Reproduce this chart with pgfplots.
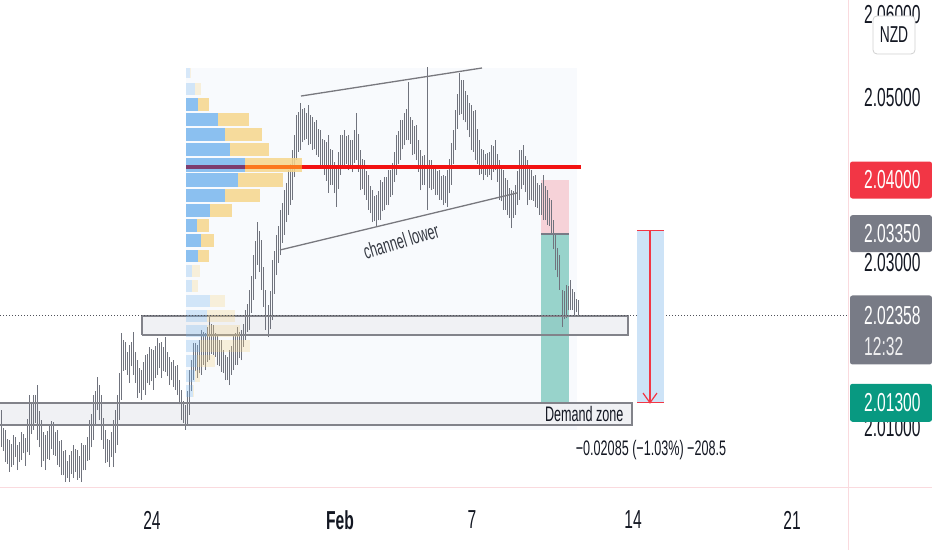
\documentclass[border=0pt]{standalone}
\usepackage{fontspec}
\setmainfont{Liberation Sans}[FakeStretch=0.6]
\usepackage{pgfplots}
\pgfplotsset{compat=1.18}
\usepackage{pgfplotstable}

\definecolor{tvtext}{RGB}{19,23,34}
\definecolor{barcol}{RGB}{112,115,125}
\definecolor{vpblue}{RGB}{120,182,238}
\definecolor{vpyel}{RGB}{246,214,140}
\definecolor{tvred}{RGB}{242,54,69}
\definecolor{pocred}{RGB}{242,18,18}
\definecolor{tvgreen}{RGB}{8,153,129}
\definecolor{tvgray}{RGB}{120,123,134}
\definecolor{sepcol}{RGB}{250,218,222}
\definecolor{rectfill}{RGB}{240,241,244}
\definecolor{rectdraw}{RGB}{130,131,138}
\definecolor{measfill}{RGB}{205,227,247}
\definecolor{tint}{RGB}{248,250,253}
\definecolor{pocA}{RGB}{125,60,110}
\definecolor{pocB}{RGB}{252,120,30}
\definecolor{chancol}{RGB}{120,120,126}
\definecolor{dotcol}{RGB}{80,82,90}

\newcommand{\axfont}{\fontsize{26}{28}\selectfont}
\newcommand{\smfont}{\fontsize{21}{24}\selectfont}

\newcommand{\vprow}[5]{%
  \addplot[draw=none, fill=vpblue, fill opacity=#5] coordinates {(186,#1) (#3,#1) (#3,#2) (186,#2)};
  \addplot[draw=none, fill=vpyel, fill opacity=#5] coordinates {(#3,#1) (#4,#1) (#4,#2) (#3,#2)};
}

\pgfplotstableread{
x lo hi
1 2.00764 2.01212
5 2.00582 2.00970
9 2.00461 2.00849
13 2.00546 2.00909
17 2.00485 2.00788
21 2.00606 2.00946
25 2.00534 2.00873
29 2.00667 2.01394
33 2.00970 2.01394
37 2.00849 2.01515
41 2.00521 2.01091
45 2.00485 2.00909
49 2.00606 2.01030
53 2.00667 2.01067
57 2.00546 2.00970
61 2.00424 2.00849
65 2.00340 2.00727
69 2.00340 2.00667
73 2.00388 2.00788
77 2.00364 2.00727
81 2.00340 2.00812
85 2.00485 2.00788
89 2.00606 2.01091
93 2.00849 2.01394
97 2.01212 2.01612
101 2.00849 2.01394
105 2.00570 2.00970
109 2.00521 2.00849
113 2.00521 2.01091
117 2.00788 2.01394
121 2.01334 2.02146
125 2.01697 2.02037
129 2.01540 2.02000
133 2.01637 2.02158
137 2.01358 2.01818
141 2.01334 2.01697
145 2.01394 2.01879
149 2.01515 2.01976
153 2.01455 2.01940
157 2.01637 2.02085
161 2.01600 2.02037
165 2.01673 2.02097
169 2.01515 2.01855
173 2.01491 2.01818
177 2.01394 2.01758
181 2.01091 2.01455
185 2.00970 2.01273
189 2.01152 2.01697
193 2.01576 2.02024
197 2.01600 2.02000
201 2.01637 2.02182
205 2.01697 2.02146
209 2.01818 2.02340
213 2.01879 2.02243
217 2.01758 2.02121
221 2.01673 2.02061
225 2.01576 2.01879
229 2.01515 2.01940
233 2.01697 2.02121
237 2.01758 2.02218
241 2.01818 2.02182
245 2.02061 2.02424
249 2.02182 2.02667
253 2.02546 2.03091
257 2.02970 2.03491
261 2.02667 2.03273
265 2.02182 2.02667
268 2.02097 2.02485
272 2.02303 2.03030
276 2.02849 2.03334
280 2.03091 2.03637
284 2.03334 2.03879
288 2.03576 2.04121
292 2.03758 2.04364
296 2.04243 2.04788
300 2.04364 2.04934
304 2.04485 2.04873
308 2.04424 2.04909
312 2.04364 2.04764
316 2.04303 2.04727
320 2.04182 2.04606
324 2.04061 2.04485
328 2.03843 2.04546
332 2.03940 2.04364
336 2.03673 2.04182
340 2.04061 2.04546
344 2.04182 2.04606
348 2.04121 2.04546
352 2.04097 2.04485
356 2.04243 2.04812
360 2.03879 2.04364
364 2.03818 2.04243
368 2.03637 2.04061
372 2.03491 2.03879
376 2.03430 2.03818
380 2.03515 2.04000
384 2.03637 2.04037
388 2.03697 2.04121
392 2.03818 2.04206
396 2.04061 2.04546
400 2.04243 2.04727
404 2.04424 2.04812
408 2.04485 2.05188
412 2.04303 2.04727
416 2.04243 2.04667
420 2.03879 2.04364
424 2.03940 2.04303
427 2.03637 2.05370
431 2.03879 2.04243
435 2.03818 2.04182
439 2.03758 2.04121
443 2.03697 2.04061
447 2.03673 2.04121
451 2.03940 2.04449
455 2.04364 2.04849
459 2.04788 2.05297
463 2.04727 2.05212
467 2.04606 2.05030
471 2.04364 2.04909
475 2.04243 2.04849
479 2.04061 2.04485
483 2.04000 2.04364
487 2.04037 2.04327
491 2.04000 2.04424
495 2.04121 2.04485
499 2.03758 2.04243
503 2.03637 2.04121
507 2.03576 2.04000
511 2.03418 2.03879
515 2.03576 2.03940
519 2.03758 2.04364
523 2.03940 2.04424
527 2.03697 2.04243
531 2.03758 2.04121
535 2.03673 2.04061
539 2.03576 2.03940
543 2.03515 2.04061
547 2.03455 2.03879
551 2.03334 2.03758
555 2.02909 2.03334
559 2.02667 2.03091
562 2.02218 2.02667
566 2.02327 2.02727
570 2.02424 2.02788
574 2.02364 2.02643
578 2.02352 2.02546
3 2.00720 2.01000
7 2.00560 2.00860
11 2.00520 2.00800
15 2.00640 2.00890
19 2.00580 2.00820
23 2.00690 2.00920
27 2.00700 2.01100
31 2.00920 2.01300
35 2.01060 2.01400
39 2.00760 2.01200
43 2.00600 2.00940
47 2.00620 2.00960
51 2.00740 2.01080
55 2.00660 2.00950
59 2.00520 2.00840
63 2.00420 2.00720
67 2.00390 2.00600
71 2.00440 2.00710
75 2.00460 2.00740
79 2.00390 2.00660
83 2.00480 2.00790
87 2.00600 2.00880
91 2.00760 2.01160
95 2.01040 2.01440
99 2.01090 2.01520
103 2.00740 2.01110
107 2.00580 2.00860
111 2.00640 2.00940
115 2.00690 2.01210
119 2.01090 2.01660
123 2.01690 2.02060
127 2.01640 2.01910
131 2.01740 2.02040
135 2.01540 2.01910
139 2.01420 2.01720
143 2.01460 2.01790
147 2.01540 2.01890
151 2.01560 2.01950
155 2.01600 2.01990
159 2.01720 2.02020
163 2.01680 2.01970
167 2.01620 2.01920
171 2.01570 2.01800
175 2.01460 2.01750
179 2.01280 2.01580
183 2.01050 2.01320
187 2.01040 2.01440
191 2.01440 2.01820
195 2.01680 2.02020
199 2.01660 2.02060
203 2.01760 2.02160
207 2.01800 2.02220
211 2.01890 2.02260
215 2.01860 2.02140
219 2.01740 2.02060
223 2.01660 2.01940
227 2.01580 2.01860
231 2.01640 2.01990
235 2.01760 2.02140
239 2.01840 2.02160
243 2.01980 2.02260
247 2.02160 2.02500
251 2.02390 2.02840
255 2.02800 2.03260
259 2.02890 2.03380
263 2.02460 2.02940
270 2.02190 2.02660
274 2.02620 2.03140
278 2.03000 2.03440
282 2.03240 2.03720
286 2.03490 2.03960
290 2.03700 2.04200
294 2.04040 2.04540
298 2.04340 2.04820
302 2.04460 2.04860
306 2.04500 2.04810
310 2.04440 2.04790
314 2.04370 2.04700
318 2.04280 2.04620
322 2.04160 2.04500
326 2.03990 2.04460
330 2.03940 2.04380
334 2.03840 2.04220
338 2.03890 2.04340
342 2.04160 2.04540
346 2.04190 2.04530
350 2.04140 2.04480
354 2.04210 2.04610
358 2.04100 2.04560
362 2.03890 2.04260
366 2.03760 2.04110
370 2.03600 2.03930
374 2.03500 2.03810
378 2.03510 2.03870
382 2.03620 2.03980
386 2.03700 2.04040
390 2.03800 2.04120
394 2.03980 2.04340
398 2.04190 2.04600
402 2.04370 2.04730
406 2.04490 2.04860
410 2.04440 2.04760
414 2.04310 2.04660
418 2.04100 2.04480
422 2.03940 2.04290
429 2.03900 2.04240
433 2.03890 2.04170
437 2.03820 2.04110
441 2.03760 2.04050
445 2.03720 2.04050
449 2.03840 2.04250
453 2.04190 2.04610
457 2.04620 2.05040
461 2.04800 2.05210
465 2.04700 2.05080
469 2.04520 2.04930
473 2.04340 2.04840
477 2.04190 2.04620
481 2.04070 2.04380
485 2.04060 2.04310
489 2.04060 2.04340
493 2.04100 2.04410
497 2.03980 2.04320
501 2.03740 2.04140
505 2.03640 2.04020
509 2.03540 2.03900
513 2.03540 2.03870
517 2.03700 2.04110
521 2.03890 2.04360
525 2.03860 2.04290
529 2.03760 2.04140
533 2.03750 2.04050
537 2.03660 2.03960
541 2.03580 2.03960
545 2.03520 2.03930
549 2.03440 2.03780
553 2.03160 2.03510
557 2.02820 2.03170
564 2.02310 2.02660
568 2.02420 2.02720
572 2.02430 2.02680
576 2.02400 2.02560
}\bars

\begin{document}
\begin{tikzpicture}
\path[use as bounding box] (0pt,-63pt) rectangle (932pt,487pt);
\begin{axis}[
  at={(0pt,0pt)}, anchor=south west,
  scale only axis, width=848pt, height=487pt,
  xmin=0, xmax=848, ymin=2.00279, ymax=2.06182,
  axis line style={draw=none},
  major tick length=0pt,
  clip=false,
  xtick={152,340,472,633,792},
  xticklabels={24,\textbf{Feb},7,14,21},
  xticklabel style={anchor=center, inner sep=0pt, yshift=-33pt, font=\axfont, text=tvtext},
  ytick={2.01,2.03,2.05,2.06},
  yticklabels={2.01000,2.03000,2.05000,2.06000},
  yticklabel pos=right,
  yticklabel style={anchor=west, inner sep=0pt, xshift=16pt, font=\axfont, text=tvtext},
]
% separators
\draw[sepcol, line width=1pt] (rel axis cs:1,1) -- ([yshift=-63pt]rel axis cs:1,0);
\draw[sepcol, line width=1pt] (rel axis cs:0,0) -- ([xshift=84pt]rel axis cs:1,0);

% faint tint of the fixed range
\addplot[draw=none, fill=tint] coordinates {(186,2.00970) (577,2.00970) (577,2.05358) (186,2.05358)};

% zone fills
\addplot[draw=none, fill=rectfill] coordinates {(142,2.02121) (628,2.02121) (628,2.02352) (142,2.02352)};
\addplot[draw=none, fill=rectfill] coordinates {(0,2.01030) (632,2.01030) (632,2.01297) (0,2.01297)};

% position tool
\addplot[draw=none, fill=tvred, fill opacity=0.2] coordinates {(541,2.0335) (569,2.0335) (569,2.04) (541,2.04)};
\addplot[draw=none, fill=tvgreen, fill opacity=0.4] coordinates {(541,2.013) (569,2.013) (569,2.0335) (541,2.0335)};

% price bars
\addplot[barcol, line width=0.95pt, quiver={u=0, v=\thisrow{hi}-\thisrow{lo}}] table[x=x, y=lo] {\bars};

% zone borders
\addplot[rectdraw, line width=1.5pt] coordinates {(142,2.02121) (628,2.02121) (628,2.02352) (142,2.02352) (142,2.02121)};
\addplot[rectdraw, line width=1.5pt] coordinates {(0,2.01030) (632,2.01030) (632,2.01297) (0,2.01297)};
\addplot[tvgray, line width=1.8pt] coordinates {(541,2.0335) (569,2.0335)};

% volume profile
\vprow{2.05237}{2.05358}{190}{191}{0.25}
\vprow{2.05030}{2.05176}{195}{201}{0.3}
\vprow{2.04837}{2.04994}{198}{209}{0.85}
\vprow{2.04655}{2.04812}{218}{249}{0.85}
\vprow{2.04473}{2.04630}{225}{262}{0.85}
\vprow{2.04291}{2.04449}{230}{269}{0.85}
\vprow{2.04097}{2.04267}{245}{302}{0.85}
\vprow{2.03915}{2.04085}{238}{283}{0.85}
\vprow{2.03734}{2.03891}{225}{260}{0.85}
\vprow{2.03552}{2.03709}{210}{232}{0.85}
\vprow{2.03370}{2.03527}{197}{209}{0.85}
\vprow{2.03188}{2.03346}{201}{214}{0.85}
\vprow{2.03006}{2.03152}{198}{209}{0.85}
\vprow{2.02824}{2.02970}{192}{200}{0.3}
\vprow{2.02643}{2.02788}{192}{198}{0.3}
\vprow{2.02461}{2.02606}{210}{225}{0.3}
\vprow{2.02279}{2.02424}{207}{235}{0.3}
\vprow{2.02097}{2.02243}{207}{240}{0.3}
\vprow{2.01915}{2.02061}{200}{250}{0.3}
\vprow{2.01734}{2.01879}{197}{215}{0.3}
\vprow{2.01552}{2.01697}{195}{200}{0.3}
\vprow{2.01370}{2.01515}{193}{194}{0.3}

% resistance line
\addplot[pocA, line width=4.5pt] coordinates {(186,2.04158) (245,2.04158)};
\addplot[pocB, line width=4.5pt] coordinates {(245,2.04158) (302,2.04158)};
\addplot[pocred, line width=4.5pt] coordinates {(302,2.04158) (581,2.04158)};

% channel
\addplot[chancol, line width=1.3pt] coordinates {(301,2.05018) (482,2.05358)};
\addplot[chancol, line width=1.3pt] coordinates {(280,2.03152) (517,2.03843)};
\node[rotate=17, font=\smfont, text=tvtext!85] at (axis cs:401,2.03261) {channel lower};

% current price
\addplot[dotcol, line width=1pt, dash pattern=on 1pt off 2pt] coordinates {(0,2.02358) (848,2.02358)};

% measure
\addplot[draw=none, fill=measfill] coordinates {(637,2.013) (664,2.013) (664,2.03385) (637,2.03385)};
\addplot[tvred, line width=1.2pt] coordinates {(650,2.03385) (650,2.013)};
\addplot[tvred, line width=1.4pt] coordinates {(637,2.03385) (664,2.03385)};
\addplot[tvred, line width=1.4pt] coordinates {(637,2.013) (664,2.013)};
\addplot[tvred, line width=1.2pt] coordinates {(643,2.01418) (650,2.013) (657,2.01418)};

\node[anchor=east, font=\smfont, text=tvtext] at (axis cs:627,2.01164) {Demand zone};
\node[font=\smfont, text=tvtext] at (axis cs:651,2.00727) {−0.02085 (−1.03\%) −208.5};

\coordinate (pSL) at (axis cs:848,2.04);
\coordinate (pEN) at (axis cs:848,2.0335);
\coordinate (pCP) at (axis cs:848,2.02358);
\coordinate (pTP) at (axis cs:848,2.013);
\coordinate (pNZ) at (axis cs:894,2.05758);
\end{axis}

% right-hand price labels
\fill[tvred, rounded corners=2.5pt] ([xshift=2pt]pSL) ++(0pt,18.5pt) rectangle ++(82pt,-37pt);
\node[anchor=west, inner sep=0pt, font=\axfont, text=white] at ([xshift=16pt]pSL) {2.04000};
\fill[tvgray, rounded corners=2.5pt] ([xshift=2pt]pEN) ++(0pt,18.5pt) rectangle ++(82pt,-37pt);
\node[anchor=west, inner sep=0pt, font=\axfont, text=white] at ([xshift=16pt]pEN) {2.03350};
\fill[tvgray, rounded corners=2.5pt] ([xshift=2pt]pCP) ++(0pt,20pt) rectangle ++(82pt,-69pt);
\node[anchor=west, inner sep=0pt, font=\axfont, text=white] at ([xshift=16pt]pCP) {2.02358};
\node[anchor=west, inner sep=0pt, font=\axfont, text=white!88!tvgray] at ([xshift=16pt,yshift=-31pt]pCP) {12:32};
\fill[tvgreen, rounded corners=2.5pt] ([xshift=2pt]pTP) ++(0pt,19pt) rectangle ++(82pt,-38pt);
\node[anchor=west, inner sep=0pt, font=\axfont, text=white] at ([xshift=16pt]pTP) {2.01300};
\draw[fill=white, draw=black!18, line width=0.8pt, rounded corners=4pt] ([xshift=-21pt,yshift=-19pt]pNZ) rectangle ([xshift=21pt,yshift=19pt]pNZ);
\node[inner sep=0pt, font=\fontsize{23}{25}\selectfont, text=tvtext] at (pNZ) {NZD};
\end{tikzpicture}
\end{document}
